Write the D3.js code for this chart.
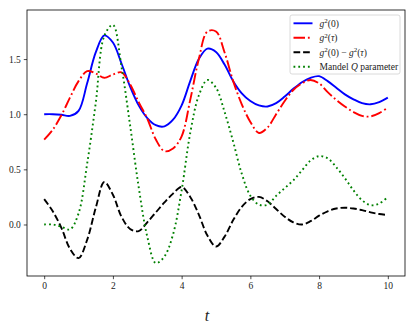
<!DOCTYPE html>
<html>
<head>
<meta charset="utf-8">
<script src="https://cdn.jsdelivr.net/npm/d3@7"></script>
<style>
  body { margin: 0; background: #fff; }
  text { font-family: "Liberation Serif", "DejaVu Serif", serif; fill: #222; }
</style>
</head>
<body>
<div id="chart"></div>
<script>
const tValues = [0, 0.25, 0.5, 0.75, 1, 1.25, 1.5, 1.75, 2, 2.25, 2.5, 2.75, 3, 3.25, 3.5, 3.75,
  4, 4.25, 4.5, 4.75, 5, 5.25, 5.5, 5.75, 6, 6.25, 6.5, 6.75, 7, 7.25, 7.5, 7.75,
  8, 8.25, 8.5, 8.75, 9, 9.25, 9.5, 9.75, 10];

const g2zero = [1.00, 1.00, 0.995, 0.985, 1.03, 1.28, 1.56, 1.715, 1.65, 1.46, 1.25, 1.08, 0.965, 0.90, 0.89, 0.95,
  1.08, 1.30, 1.50, 1.595, 1.565, 1.45, 1.30, 1.19, 1.12, 1.08, 1.07, 1.10, 1.16, 1.23, 1.29, 1.33,
  1.345, 1.30, 1.24, 1.18, 1.135, 1.10, 1.09, 1.11, 1.15];

const g2tau = [0.77, 0.86, 0.99, 1.15, 1.30, 1.39, 1.37, 1.33, 1.36, 1.38, 1.27, 1.11, 0.96, 0.77, 0.665, 0.69,
  0.80, 1.13, 1.50, 1.75, 1.75, 1.56, 1.30, 1.09, 0.93, 0.83, 0.88, 1.00, 1.12, 1.22, 1.28, 1.31,
  1.28, 1.20, 1.13, 1.07, 1.02, 0.985, 0.98, 1.01, 1.06];

const g2diff = [0.23, 0.12, -0.03, -0.22, -0.305, -0.14, 0.15, 0.385, 0.27, 0.07, -0.04, -0.06, 0.02, 0.11, 0.20, 0.28,
  0.34, 0.25, 0.09, -0.10, -0.20, -0.11, 0.04, 0.16, 0.23, 0.25, 0.21, 0.14, 0.07, 0.02, 0.0, 0.03,
  0.08, 0.12, 0.145, 0.152, 0.145, 0.13, 0.11, 0.095, 0.085];

const mandelQ = [0.0, 0.0, -0.02, -0.045, 0.10, 0.55, 1.10, 1.71, 1.81, 1.43, 0.90, 0.34, -0.11, -0.35, -0.29, -0.09,
  0.31, 0.83, 1.17, 1.31, 1.24, 1.02, 0.75, 0.46, 0.26, 0.18, 0.18, 0.26, 0.33, 0.40, 0.49, 0.58,
  0.62, 0.60, 0.52, 0.42, 0.31, 0.22, 0.175, 0.19, 0.25];

const xTicks = [0, 2, 4, 6, 8, 10];
const yTicks = [0.0, 0.5, 1.0, 1.5];

const series = [
  { name: "g2zero", values: g2zero, color: "#0000ff", dash: null },
  { name: "g2tau", values: g2tau, color: "#ff0000", dash: "11.5,2.9,1.8,2.9" },
  { name: "g2diff", values: g2diff, color: "#000000", dash: "6.7,2.9" },
  { name: "mandelQ", values: mandelQ, color: "#008000", dash: "1.8,3.0" }
];

const width = 415, height = 327;
const margin = { top: 10, right: 10, bottom: 51, left: 27 };

const svg = d3.select("#chart").append("svg")
  .attr("width", width)
  .attr("height", height);

const x = d3.scaleLinear().domain([-0.5, 10.5]).range([margin.left, width - margin.right]);
const y = d3.scaleLinear().domain([-0.467, 1.945]).range([height - margin.bottom, margin.top]);

// curves
const line = d3.line()
  .x((d, i) => x(tValues[i]))
  .y(d => y(d))
  .curve(d3.curveCatmullRom.alpha(0.5));

series.forEach(s => {
  svg.append("path")
    .attr("d", line(s.values))
    .attr("fill", "none")
    .attr("stroke", s.color)
    .attr("stroke-width", 1.9)
    .attr("stroke-dasharray", s.dash);
});

// axes
const xAxis = svg.append("g")
  .attr("transform", `translate(0,${height - margin.bottom})`)
  .call(d3.axisBottom(x).tickValues(xTicks).tickSize(3.2).tickPadding(3).tickFormat(d3.format("d")));
const yAxis = svg.append("g")
  .attr("transform", `translate(${margin.left},0)`)
  .call(d3.axisLeft(y).tickValues(yTicks).tickSize(3.2).tickPadding(3).tickFormat(d3.format(".1f")));

[xAxis, yAxis].forEach(a => {
  a.select(".domain").remove();
  a.selectAll("line").attr("stroke", "#000").attr("stroke-width", 0.7);
  a.selectAll("text").attr("font-size", 9.5).attr("font-family", "Liberation Serif").attr("fill", "#222");
});

svg.append("rect")
  .attr("x", margin.left)
  .attr("y", margin.top)
  .attr("width", width - margin.left - margin.right)
  .attr("height", height - margin.top - margin.bottom)
  .attr("fill", "none")
  .attr("stroke", "#000")
  .attr("stroke-width", 0.8);

// x label
svg.append("text")
  .attr("x", 207)
  .attr("y", 321)
  .attr("text-anchor", "middle")
  .attr("font-size", 16)
  .attr("font-style", "italic")
  .text("t");

// legend
const legend = svg.append("g").attr("transform", "translate(290,15)");
legend.append("rect")
  .attr("width", 110)
  .attr("height", 59)
  .attr("rx", 2)
  .attr("fill", "#fff")
  .attr("fill-opacity", 0.8)
  .attr("stroke", "#d0d0d0")
  .attr("stroke-width", 0.8);

const labels = [
  [["g", "it"], ["2", "sup"], ["(0)", ""]],
  [["g", "it"], ["2", "sup"], ["(", ""], ["τ", "it"], [")", ""]],
  [["g", "it"], ["2", "sup"], ["(0) − ", ""], ["g", "it"], ["2", "sup"], ["(", ""], ["τ", "it"], [")", ""]],
  [["Mandel ", ""], ["Q", "it"], [" parameter", ""]]
];

series.forEach((s, i) => {
  const yy = 8.3 + i * 14.5;
  legend.append("line")
    .attr("x1", 3.5).attr("x2", 22.5)
    .attr("y1", yy).attr("y2", yy)
    .attr("stroke", s.color)
    .attr("stroke-width", 1.9)
    .attr("stroke-dasharray", s.dash);
  const t = legend.append("text")
    .attr("x", 29.5)
    .attr("y", yy + 3.2)
    .attr("font-size", 9.5);
  labels[i].forEach(p => {
    const ts = t.append("tspan").text(p[0]);
    if (p[1] === "it") ts.attr("font-style", "italic");
    if (p[1] === "sup") ts.attr("font-size", 7).attr("dy", -3.5);
    else if (ts.node().previousSibling && ts.node().previousSibling.getAttribute("font-size")) ts.attr("dy", 3.5);
  });
});
</script>
</body>
</html>
